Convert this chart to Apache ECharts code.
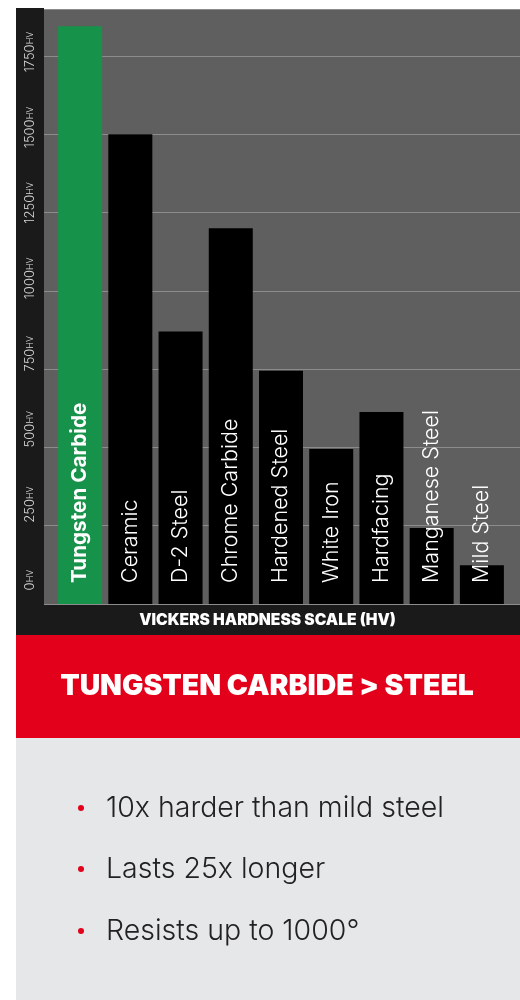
<!DOCTYPE html>
<html>
<head>
<meta charset="utf-8">
<script src="https://cdn.jsdelivr.net/npm/echarts@6/dist/echarts.min.js"></script>
<style>
  html, body { margin: 0; padding: 0; background: #ffffff; }
  #chart { width: 520px; height: 1000px; }
</style>
</head>
<body>
<div id="chart"></div>
<script>
// ---- data ----
const categories = ['Tungsten Carbide', 'Ceramic', 'D-2 Steel', 'Chrome Carbide', 'Hardened Steel', 'White Iron', 'Hardfacing', 'Manganese Steel', 'Mild Steel'];
const hardness = [1845, 1500, 870, 1200, 745, 495, 613, 243, 124];
const tickValues = [0, 250, 500, 750, 1000, 1250, 1500, 1750];
const tickUnit = 'HV';
const axisTitle = 'VICKERS HARDNESS SCALE (HV)';
const headline = 'TUNGSTEN CARBIDE > STEEL';
const bullets = ['10x harder than mild steel', 'Lasts 25x longer', 'Resists up to 1000\u00B0'];

// ---- chart ----
const chart = echarts.init(document.getElementById('chart'), null, { renderer: 'canvas' });
const FONT = 'Inter, Lato, sans-serif';

const graphic = [
  { type: 'rect', z: -10, shape: { x: 16, y: 8, width: 28, height: 596 }, style: { fill: '#1a1a1a' } },
  { type: 'rect', z: -10, shape: { x: 16, y: 604, width: 504, height: 31 }, style: { fill: '#1a1a1a' } },
  { type: 'rect', z: -10, shape: { x: 16, y: 635, width: 504, height: 103 }, style: { fill: '#e2001a' } },
  { type: 'rect', z: -10, shape: { x: 16, y: 738, width: 504, height: 262 }, style: { fill: '#e6e7e9' } },
  { type: 'text', x: 267.5, y: 620.5, style: { text: axisTitle, fill: '#ffffff', font: '900 15.6px ' + FONT, align: 'center', verticalAlign: 'middle' } },
  { type: 'text', x: 267, y: 686, style: { text: headline, fill: '#ffffff', font: '900 28.4px ' + FONT, align: 'center', verticalAlign: 'middle' } }
];
const bulletY = [808, 869, 931];
bullets.forEach((b, i) => {
  graphic.push({ type: 'circle', shape: { cx: 81, cy: bulletY[i], r: 3 }, style: { fill: '#e2001a' } });
  graphic.push({ type: 'text', x: 106, y: bulletY[i], style: { text: b, fill: '#222222', font: '300 28.5px ' + FONT, align: 'left', verticalAlign: 'middle' } });
});

const option = {
  animation: false,
  backgroundColor: '#ffffff',
  graphic: graphic,
  grid: [
    { left: 44, width: 476, top: 9, height: 595, show: true, backgroundColor: '#5f5f5f', borderWidth: 0, z: 0 },
    { left: 55, width: 452, top: 9, height: 595 },
    { left: 44, width: 476, top: 52, height: 528 }
  ],
  xAxis: [
    { type: 'value', gridIndex: 0, show: false, min: 0, max: 1 },
    { type: 'category', gridIndex: 1, data: categories, show: false, boundaryGap: true },
    { type: 'value', gridIndex: 2, show: false, min: 0, max: 1 }
  ],
  yAxis: [
    { type: 'value', gridIndex: 0, min: 0, max: 1900, interval: 250,
      axisLine: { show: false }, axisTick: { show: false }, axisLabel: { show: false },
      splitLine: { show: true, lineStyle: { color: '#8c8c8c', width: 1 } } },
    { type: 'value', gridIndex: 1, min: 0, max: 1900, show: false, splitLine: { show: false } },
    { type: 'value', gridIndex: 2, min: 0, max: 1750, interval: 250,
      axisLine: { show: false }, axisTick: { show: false }, splitLine: { show: false },
      axisLabel: {
        show: true, rotate: 90, margin: 7,
        customValues: tickValues,
        formatter: v => '{n|' + v + '}{u|' + tickUnit + '}',
        rich: {
          n: { fontSize: 13, color: '#d6d6d6', fontFamily: FONT, fontWeight: 300 },
          u: { fontSize: 9, color: '#d6d6d6', fontFamily: FONT, fontWeight: 300 }
        }
      } }
  ],
  series: [{
    type: 'bar',
    xAxisIndex: 1, yAxisIndex: 1,
    barWidth: 44,
    z: 5,
    data: hardness.map((v, i) => i === 0
      ? { value: v, itemStyle: { color: '#17924a' }, label: { fontWeight: 'bold', fontSize: 20.7 } }
      : { value: v }),
    itemStyle: { color: '#000000' },
    label: {
      show: true,
      position: 'insideBottom',
      rotate: 90,
      align: 'left',
      verticalAlign: 'middle',
      distance: 21,
      formatter: p => categories[p.dataIndex],
      color: '#ffffff',
      fontSize: 21.5,
      fontWeight: 300,
      fontFamily: FONT
    }
  }]
};
chart.setOption(option);
</script>
</body>
</html>
